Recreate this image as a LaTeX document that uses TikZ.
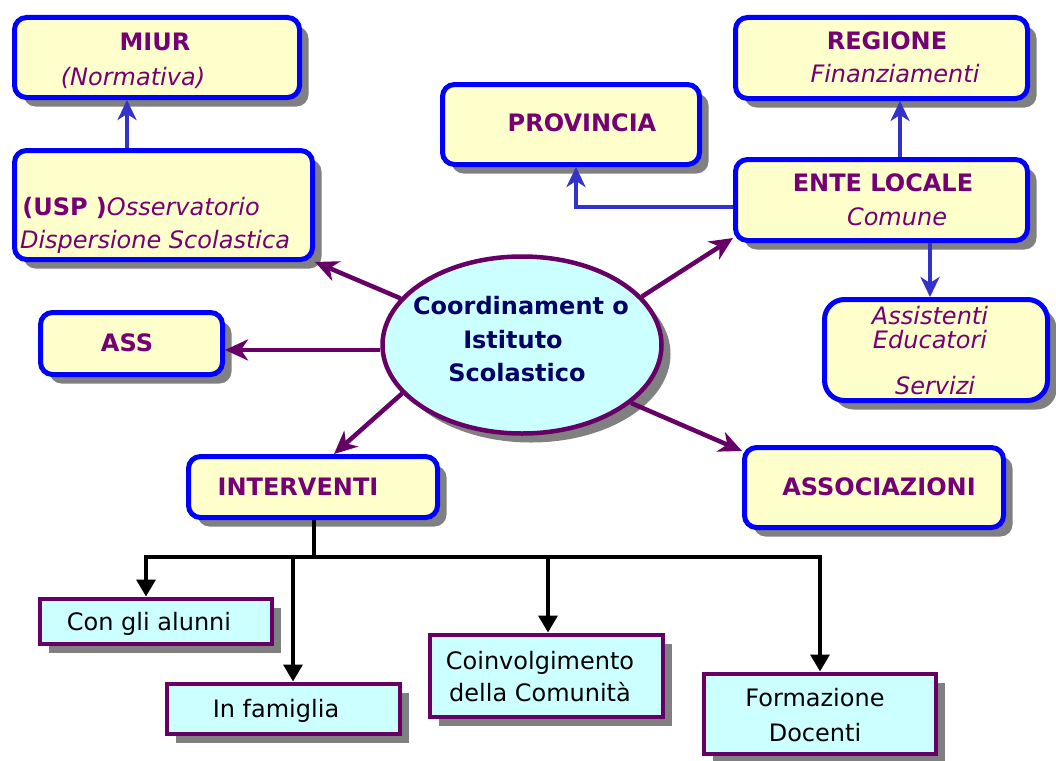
\documentclass[tikz,border=0pt]{standalone}
\usepackage{fontspec}
\setmainfont{DejaVu Sans}
\usetikzlibrary{arrows.meta,shapes.geometric,shadows,calc}
\definecolor{yfill}{HTML}{FFFFCC}
\definecolor{cfill}{HTML}{CCFFFF}
\definecolor{boxblue}{HTML}{0000FF}
\definecolor{linkblue}{HTML}{3333CC}
\definecolor{purp}{HTML}{660066}
\definecolor{purptext}{HTML}{750075}
\definecolor{navy}{HTML}{000066}
\definecolor{shadowgray}{HTML}{808080}
\tikzset{
  shad/.style={drop shadow={shadow xshift=9pt,shadow yshift=-9pt,fill=shadowgray,opacity=1}},
  ybox/.style={draw=boxblue,line width=5pt,fill=yfill,rounded corners=12pt,shad,inner sep=0pt},
  cbox/.style={draw=purp,line width=4pt,fill=cfill,shad,inner sep=0pt},
  lbl/.style={inner sep=0pt,text height=17pt,text depth=0pt,font=\fontsize{24}{28}\selectfont},
  blbl/.style={lbl,font=\fontsize{24}{28}\selectfont\bfseries,text=purptext},
  ilbl/.style={lbl,font=\fontsize{24}{28}\selectfont\itshape,text=purptext},
  elbl/.style={lbl,font=\fontsize{24}{28}\selectfont\bfseries,text=navy},
  klbl/.style={lbl,text=black},
  parrow/.style={draw=purp,line width=4.5pt,-{Stealth[length=23pt,width=21pt,inset=7pt]}},
  barrow/.style={draw=linkblue,line width=4.5pt,-{Stealth[length=20pt,width=19pt,inset=6pt]}},
  karrow/.style={draw=black,line width=3.5pt,-{Triangle[length=17pt,width=19pt]}},
  kline/.style={draw=black,line width=3.5pt}
}
\begin{document}
\begin{tikzpicture}[x=1pt,y=-1pt]
\useasboundingbox (0,0) rectangle (1056,760);
% yellow boxes
\node[ybox,minimum width=285pt,minimum height=80pt] (miur) at (157,57.5) {};
\node[ybox,minimum width=298pt,minimum height=109pt] (usp) at (163.5,205) {};
\node[ybox,minimum width=257pt,minimum height=80pt] (prov) at (571,124.5) {};
\node[ybox,minimum width=292pt,minimum height=81pt] (reg) at (881.5,58) {};
\node[ybox,minimum width=292pt,minimum height=81pt] (ente) at (881.5,200) {};
\node[ybox,rounded corners=20pt,minimum width=223pt,minimum height=101pt] (assist) at (936,350) {};
\node[ybox,minimum width=182pt,minimum height=62pt] (ass) at (131.5,343.5) {};
\node[ybox,minimum width=249pt,minimum height=61pt] (intv) at (313,487) {};
\node[ybox,minimum width=259pt,minimum height=80pt] (assoc) at (874,487.5) {};
% central ellipse
\node[ellipse,draw=purp,line width=4.5pt,fill=cfill,shad,minimum width=279pt,minimum height=177pt,inner sep=0pt] (ell) at (522,345) {};
% cyan boxes
\node[cbox,minimum width=232pt,minimum height=45pt] (c1) at (155.5,621) {};
\node[cbox,minimum width=233pt,minimum height=50pt] (c2) at (283,708.5) {};
\node[cbox,minimum width=233pt,minimum height=82pt] (c3) at (546,675.5) {};
\node[cbox,minimum width=232pt,minimum height=80pt] (c4) at (819.5,713.5) {};
% texts
\node[blbl] (tmiur) at (155,42) {MIUR};
\node[ilbl] (tnorm) at (133,77) {(Normativa)};
\node[lbl,text=purptext] (tusp) at (141,207) {\textbf{(USP )}\textit{Osservatorio}};
\node[ilbl] (tdisp) at (155,240) {Dispersione Scolastica};
\node[blbl] (tprov) at (582,123) {PROVINCIA};
\node[blbl] (treg) at (887,41) {REGIONE};
\node[ilbl] (tfin) at (895,74) {Finanziamenti};
\node[blbl] (tente) at (883,183) {ENTE LOCALE};
\node[ilbl] (tcom) at (897,217) {Comune};
\node[ilbl] (tassi) at (930,316) {Assistenti};
\node[ilbl] (tedu) at (930,340) {Educatori};
\node[ilbl] (tserv) at (935,386) {Servizi};
\node[blbl] (tass) at (127,343) {ASS};
\node[elbl] (tc1) at (521,306) {Coordinament o};
\node[elbl] (tc2) at (513,340) {Istituto};
\node[elbl] (tc3) at (517,373) {Scolastico};
\node[blbl] (tintv) at (298,487) {INTERVENTI};
\node[blbl] (tassoc) at (879,487) {ASSOCIAZIONI};
\node[klbl] (tk1) at (149,622) {Con gli alunni};
\node[klbl] (tk2) at (276,709) {In famiglia};
\node[klbl] (tk3a) at (540,661) {Coinvolgimento};
\node[klbl] (tk3b) at (540,693) {della Comunità};
\node[klbl] (tk4a) at (815,698) {Formazione};
\node[klbl] (tk4b) at (815,733) {Docenti};
% purple connectors
\draw[parrow] (ell.159.7) -- (usp.south east);
\draw[parrow] (ell.182) -- (ell.182 -| ass.east);
\draw[parrow] (ell.202.3) -- ($(intv.north west)+(148,0)$);
\draw[parrow] (ell.22.1) -- ($(ente.south west)+(0,-5)$);
\draw[parrow] (ell.332.1) -- ($(assoc.north west)+(0,6)$);
% blue connectors
\draw[barrow] ($(usp.north west)+(115,0)$) -- ($(miur.south west)+(115,0)$);
\draw[barrow] ($(ente.north)+(18.5,0)$) -- ($(reg.south)+(18.5,0)$);
\draw[barrow] ($(ente.west)+(0,7)$) -| ($(prov.south)+(5,0)$);
\coordinate (e1) at ($(ente.south)+(48.5,0)$);
\draw[barrow] (e1) -- (e1 |- assist.north);
% black tree
\coordinate (split) at (314,557);
\coordinate (b1) at (146,557);
\coordinate (b2) at (293,557);
\coordinate (b3) at (548,557);
\coordinate (b4) at (820,557);
\draw[kline] (intv.south -| split) -- (split);
\draw[kline,line cap=rect] (b1) -- (b4);
\draw[karrow] (b1) -- (b1 |- c1.north);
\draw[karrow] (b2) -- (b2 |- c2.north);
\draw[karrow] (b3) -- (b3 |- c3.north);
\draw[karrow] (b4) -- (b4 |- c4.north);
\end{tikzpicture}
\end{document}
